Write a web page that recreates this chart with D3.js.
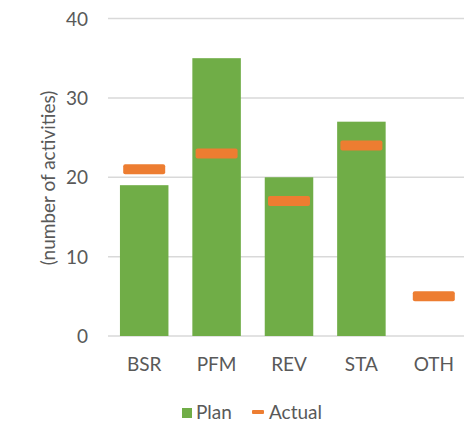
<!DOCTYPE html>
<html>
<head>
<meta charset="utf-8">
<script src="https://cdn.jsdelivr.net/npm/d3@7"></script>
<style>
  html, body { margin: 0; padding: 0; background: #fff; }
  svg { display: block; }
  text { font-family: Lato, "Open Sans", sans-serif; fill: #595959; }
</style>
</head>
<body>
<script>
const categories = ["BSR", "PFM", "REV", "STA", "OTH"];
const planValues = [19, 35, 20, 27, 0];
const actualValues = [21, 23, 17, 24, 5];
const yTicks = [0, 10, 20, 30, 40];
const seriesNames = ["Plan", "Actual"];
const colors = { plan: "#70AD47", actual: "#ED7D31" };

const W = 464, H = 424;
const svg = d3.select("body").append("svg").attr("width", W).attr("height", H);

const x = d3.scaleBand().domain(categories).range([108, 470]).paddingInner(0.33).paddingOuter(0.165);
const y = d3.scaleLinear().domain([0, 40]).range([336, 18.5]);

// gridlines
svg.append("g").selectAll("line").data(yTicks).join("line")
  .attr("x1", 108).attr("x2", 470)
  .attr("y1", d => y(d)).attr("y2", d => y(d))
  .attr("stroke", "#d9d9d9").attr("stroke-width", 1.5);

// y axis labels
const yAxis = d3.axisLeft(y).tickValues(yTicks).tickSize(0).tickPadding(0);
const gy = svg.append("g").attr("transform", "translate(88,0)").call(yAxis);
gy.select(".domain").remove();
gy.selectAll("text").attr("font-size", 19).style("font-family", "Lato, sans-serif").attr("fill", "#595959").attr("dy", "0.35em");

// x axis labels
const xAxis = d3.axisBottom(x).tickSize(0).tickPadding(0);
const gx = svg.append("g").attr("transform", "translate(0,357)").call(xAxis);
gx.select(".domain").remove();
gx.selectAll("text").attr("font-size", 19).style("font-family", "Lato, sans-serif").attr("fill", "#595959").attr("dy", "0.71em");

// bars
svg.append("g").selectAll("rect").data(categories).join("rect")
  .attr("x", d => x(d))
  .attr("width", x.bandwidth())
  .attr("y", (d, i) => y(planValues[i]))
  .attr("height", (d, i) => y(0) - y(planValues[i]))
  .attr("fill", colors.plan);

// actual markers
const mw = x.step() * 0.58, mh = 10;
svg.append("g").selectAll("rect").data(categories).join("rect")
  .attr("x", d => x(d) + x.bandwidth() / 2 - mw / 2)
  .attr("width", mw)
  .attr("y", (d, i) => y(actualValues[i]) - mh / 2)
  .attr("height", mh)
  .attr("rx", 2)
  .attr("fill", colors.actual);

// y title
svg.append("text")
  .attr("transform", "translate(47,178) rotate(-90)")
  .attr("text-anchor", "middle")
  .attr("dominant-baseline", "central")
  .attr("font-size", 19)
  .text("(number of activities)");

// legend
const lg = svg.append("g");
lg.append("rect").attr("x", 182).attr("y", 408).attr("width", 10).attr("height", 10).attr("fill", colors.plan);
lg.append("text").attr("x", 196).attr("y", 419).attr("font-size", 19).text(seriesNames[0]);
lg.append("rect").attr("x", 252).attr("y", 410).attr("width", 12).attr("height", 4).attr("rx", 1).attr("fill", colors.actual);
lg.append("text").attr("x", 269).attr("y", 419).attr("font-size", 19).text(seriesNames[1]);
</script>
</body>
</html>
